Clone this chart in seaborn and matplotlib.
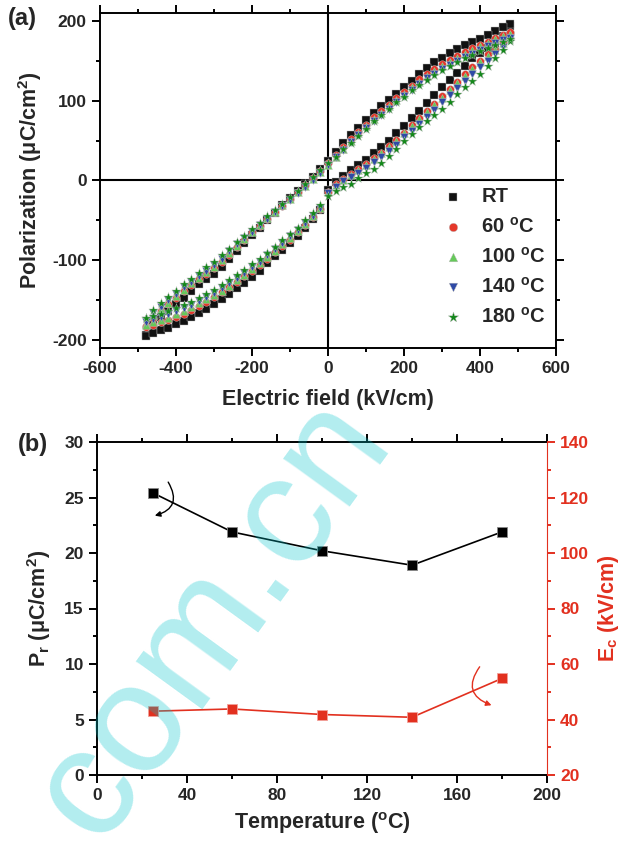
import matplotlib
matplotlib.use("Agg")
import matplotlib.pyplot as plt
import numpy as np
import pandas as pd
import seaborn as sns

# field sweep of the P-E loop: 0 -> +Emax -> -Emax -> ~0 (kV/cm)
field_up = [0, 20, 40, 60, 80, 100, 120, 140, 160, 180, 200, 220, 240, 260,
            280, 300, 320, 340, 360, 380, 400, 420, 440, 460, 480]
field_down = [480, 460, 440, 420, 400, 380, 360, 340, 320, 300, 280, 260,
              240, 220, 200, 180, 160, 140, 120, 100, 80, 60, 40, 20, 0,
              -20, -40, -60, -80, -100, -120, -140, -160, -180, -200, -220,
              -240, -260, -280, -300, -320, -340, -360, -380, -400, -420,
              -440, -460, -480]
field_back = [-480, -460, -440, -420, -400, -380, -360, -340, -320, -300,
              -280, -260, -240, -220, -200, -180, -160, -140, -120, -100,
              -80, -60, -40, -20]

# polarization (uC/cm2)
pol_rt_up = [-12, -2, 6, 13, 19, 26, 34, 42, 50, 59, 68, 78, 87, 97, 107, 117,
             126, 135, 144, 153, 160, 166, 172, 181, 194]
pol_rt_down = [196, 193, 188, 183, 178, 174, 170, 165, 160, 154, 148, 141, 133,
               125, 117, 109, 101, 93, 85, 76, 66, 57, 47, 36, 25, 15, 5, -4,
               -13, -22, -31, -41, -50, -59, -68, -78, -88, -99, -109, -117,
               -124, -130, -138, -147, -155, -163, -171, -181, -194]
pol_rt_back = [-195, -191, -188, -185, -180, -176, -171, -166, -161, -155,
               -148, -142, -135, -128, -121, -113, -104, -95, -87, -78, -69,
               -59, -48, -37]

pol_60_up = [-14, -5, 2, 8, 14, 21, 28, 35, 43, 51, 60, 69, 78, 87, 96, 106,
             115, 124, 133, 142, 150, 158, 165, 174, 185]
pol_60_down = [186, 183, 179, 174, 170, 166, 161, 156, 151, 146, 140, 134, 127,
               119, 111, 103, 95, 87, 79, 70, 61, 52, 42, 32, 22, 12, 3, -6,
               -15, -23, -32, -40, -48, -57, -65, -74, -83, -93, -102, -110,
               -117, -124, -131, -139, -147, -155, -163, -172, -183]
pol_60_back = [-184, -181, -178, -175, -171, -167, -162, -157, -152, -146,
               -140, -134, -127, -120, -113, -106, -98, -90, -82, -74, -65,
               -56, -46, -36]

pol_100_up = [-15, -6, 1, 7, 13, 20, 27, 34, 42, 50, 59, 68, 77, 86, 95, 104,
              113, 122, 131, 140, 148, 156, 164, 173, 183]
pol_100_down = [184, 181, 177, 172, 168, 163, 158, 153, 148, 143, 137, 131,
                124, 117, 109, 101, 93, 85, 77, 68, 59, 50, 40, 30, 20, 11, 2,
                -7, -15, -23, -31, -39, -47, -56, -64, -73, -82, -91, -100,
                -108, -115, -122, -129, -137, -145, -153, -161, -169, -180]
pol_100_back = [-181, -178, -175, -172, -168, -164, -159, -154, -149, -144,
                -138, -132, -125, -118, -111, -104, -96, -88, -80, -72, -63,
                -54, -45, -35]

pol_140_up = [-16, -8, -1, 5, 10, 16, 23, 30, 37, 45, 54, 62, 71, 80, 89, 98,
              107, 116, 125, 134, 142, 150, 158, 167, 178]
pol_140_down = [179, 176, 172, 168, 164, 159, 155, 150, 145, 140, 134, 128,
                121, 114, 106, 98, 90, 82, 74, 66, 57, 48, 38, 29, 19, 10, 1,
                -8, -16, -24, -32, -40, -48, -56, -64, -72, -80, -89, -98,
                -106, -113, -120, -127, -134, -142, -150, -158, -166, -176]
pol_140_back = [-177, -174, -171, -168, -164, -160, -156, -151, -146, -141,
                -135, -129, -122, -116, -109, -102, -94, -86, -78, -70, -62,
                -53, -44, -34]

pol_180_up = [-19, -13, -8, -4, 3, 9, 14, 22, 31, 40, 50, 58, 67, 74, 82, 90,
              99, 108, 117, 125, 134, 144, 154, 164, 175]
pol_180_down = [177, 174, 170, 166, 162, 157, 153, 148, 143, 138, 132, 126,
                120, 113, 105, 98, 90, 82, 74, 65, 56, 47, 39, 30, 22, 13, 4,
                -5, -13, -21, -29, -37, -45, -53, -61, -69, -77, -86, -94,
                -102, -109, -116, -123, -130, -138, -146, -154, -162, -172]
pol_180_back = [-173, -170, -167, -164, -160, -156, -152, -147, -142, -137,
                -131, -125, -119, -112, -105, -98, -91, -83, -75, -67, -59,
                -50, -41, -31]

sample_labels = ["RT", "60 $^{o}$C", "100 $^{o}$C", "140 $^{o}$C", "180 $^{o}$C"]

# panel (b)
temperatures = [25, 60, 100, 140, 180]
remanent_pol = [25.4, 21.9, 20.2, 18.9, 21.9]
coercive_field = [43.0, 43.8, 41.8, 40.8, 54.8]


loops = {
    "RT": (pol_rt_up, pol_rt_down, pol_rt_back),
    "60 $^{o}$C": (pol_60_up, pol_60_down, pol_60_back),
    "100 $^{o}$C": (pol_100_up, pol_100_down, pol_100_back),
    "140 $^{o}$C": (pol_140_up, pol_140_down, pol_140_back),
    "180 $^{o}$C": (pol_180_up, pol_180_down, pol_180_back),
}
frames = []
for label in sample_labels:
    up, down, back = loops[label]
    frames.append(pd.DataFrame({
        "field": field_up + field_down + field_back,
        "pol": up + down + back,
        "sample": label}))
loop_data = pd.concat(frames, ignore_index=True)

sns.set_style("ticks")
plt.rcParams["font.family"] = ["Liberation Sans", "DejaVu Sans"]
plt.rcParams["font.weight"] = "bold"
plt.rcParams["axes.labelweight"] = "bold"
plt.rcParams["axes.unicode_minus"] = False
plt.rcParams["mathtext.fontset"] = "custom"
plt.rcParams["mathtext.rm"] = "Liberation Sans:bold"
plt.rcParams["mathtext.bf"] = "Liberation Sans:bold"
plt.rcParams["mathtext.it"] = "Liberation Sans:bold"
plt.rcParams["mathtext.default"] = "bf"

figure = plt.figure(figsize=(6.34, 8.41), dpi=100)
ax_a = figure.add_axes([100 / 634, 1 - 348 / 841, 456 / 634, 335 / 841])
ax_b = figure.add_axes([97 / 634, 1 - 775 / 841, 450 / 634, 333 / 841])

# (marker, colour, size)
styles = {
    "RT": ("s", "#111111", 28),
    "60 $^{o}$C": ("o", "#e5382a", 30),
    "100 $^{o}$C": ("^", "#66c95a", 32),
    "140 $^{o}$C": ("v", "#2f4aa6", 32),
    "180 $^{o}$C": ("*", "#13881a", 50),
}

ax_a.axhline(0, color="black", lw=1.5, zorder=1)
ax_a.axvline(0, color="black", lw=1.5, zorder=1)
for label in sample_labels:
    marker, color, size = styles[label]
    sns.scatterplot(
        data=loop_data[loop_data["sample"] == label], x="field", y="pol",
        marker=marker, color=color, s=size, edgecolor="#bbbbbb",
        linewidth=0.3, ax=ax_a, label=label, zorder=3)

ax_a.set_xlim(-600, 600)
ax_a.set_ylim(-210, 210)
ax_a.set_xticks([-600, -400, -200, 0, 200, 400, 600])
ax_a.set_xticks(np.arange(-500, 600, 200), minor=True)
ax_a.set_yticks([-200, -100, 0, 100, 200])
ax_a.set_yticks([-150, -50, 50, 150], minor=True)
ax_a.set_xlabel("Electric field (kV/cm)", fontsize=15.5, labelpad=9)
ax_a.set_ylabel("Polarization (μC/cm$^{2}$)", fontsize=15.5, labelpad=6)

handles, labels = ax_a.get_legend_handles_labels()
ax_a.legend(handles, labels, loc="upper left", bbox_to_anchor=(0.73, 0.51),
            frameon=False, fontsize=14.5, borderpad=0, labelspacing=0.5,
            handlelength=1.0, handletextpad=0.9, markerscale=1.1)

# panel (b)
sns.lineplot(x=temperatures, y=remanent_pol, ax=ax_b, color="black",
             marker="s", markersize=7.5, markeredgecolor="#888888",
             markeredgewidth=0.6, lw=1.2)
ax_ec = ax_b.twinx()
red = "#e2301f"
sns.lineplot(x=temperatures, y=coercive_field, ax=ax_ec, color=red,
             marker="s", markersize=7.5, markeredgecolor="#f2a099",
             markeredgewidth=0.6, lw=1.2)

ax_b.set_xlim(0, 200)
ax_b.set_ylim(0, 30)
ax_b.set_xticks(np.arange(0, 201, 40))
ax_b.set_xticks(np.arange(20, 200, 40), minor=True)
ax_b.set_yticks(np.arange(0, 31, 5))
ax_b.set_yticks(np.arange(2.5, 30, 5), minor=True)
ax_b.set_xlabel("Temperature ($^{o}$C)", fontsize=15.5, labelpad=5)
ax_b.set_ylabel("P$_{r}$ (μC/cm$^{2}$)", fontsize=15.5, labelpad=8)

ax_ec.set_ylim(20, 140)
ax_ec.set_yticks(np.arange(20, 141, 20))
ax_ec.set_yticks(np.arange(30, 140, 20), minor=True)
ax_ec.set_ylabel("E$_{c}$ (kV/cm)", fontsize=15.5, color=red, labelpad=5)
ax_ec.tick_params(axis="y", which="both", colors=red, labelsize=12.5,
                  width=1.4)
ax_ec.tick_params(axis="y", which="major", length=6)
ax_ec.tick_params(axis="y", which="minor", length=3)
ax_ec.spines["right"].set_color(red)
for side in ["left", "bottom", "top"]:
    ax_ec.spines[side].set_visible(False)

# curved arrows pointing to the matching axis
ax_b.annotate("", xy=(24.5, 23.3), xytext=(31, 26.6),
              arrowprops=dict(arrowstyle="-|>", color="black", lw=1.0,
                              mutation_scale=8,
                              connectionstyle="arc3,rad=-0.7"))
ax_ec.annotate("", xy=(176.5, 44.8), xytext=(170.8, 59.8),
               arrowprops=dict(arrowstyle="-|>", color=red, lw=1.0,
                               mutation_scale=8,
                               connectionstyle="arc3,rad=0.7"))

for ax in [ax_a, ax_b]:
    for side in ["left", "bottom", "top", "right"]:
        ax.spines[side].set_visible(True)
        ax.spines[side].set_linewidth(1.4)
        ax.spines[side].set_color("black")
    ax.tick_params(which="both", width=1.4, labelsize=12.5, color="black")
    ax.tick_params(which="major", length=6)
    ax.tick_params(which="minor", length=3)
    ax.tick_params(which="both", top=True, direction="out")
    ax.tick_params(axis="x", which="both", top=True)
ax_a.tick_params(which="both", right=True)
ax_b.spines["right"].set_visible(False)

figure.text(8 / 634, 1 - 19 / 841, "(a)", fontsize=17, va="center")
figure.text(18 / 634, 1 - 445 / 841, "(b)", fontsize=17, va="center")

# watermark (baseline starts near the bottom-left corner)
figure.text(98 / 634, 1 - 845 / 841, "com.cn", fontsize=112, rotation=54,
            rotation_mode="anchor", ha="left", va="baseline",
            color=(0.0, 0.77, 0.8), alpha=0.3, fontweight="normal", zorder=10)

plt.savefig("out.png", dpi=100)
